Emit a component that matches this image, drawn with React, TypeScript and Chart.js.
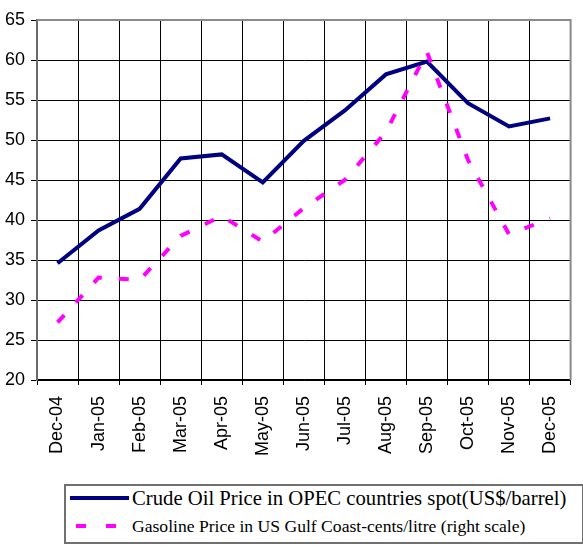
import React, { useEffect, useRef } from "react";
import { Chart, registerables } from "chart.js";

Chart.register(...registerables);

const months = [
  "Dec-04", "Jan-05", "Feb-05", "Mar-05", "Apr-05", "May-05", "Jun-05",
  "Jul-05", "Aug-05", "Sep-05", "Oct-05", "Nov-05", "Dec-05",
];
const crudeOil = [34.6, 38.7, 41.4, 47.7, 48.2, 44.7, 49.9, 53.7, 58.2, 59.8, 54.6, 51.7, 52.7];
const gasoline = [27.2, 32.8, 32.5, 38.0, 40.5, 37.3, 41.5, 45.0, 51.0, 61.0, 47.5, 38.2, 40.2];
const yTicksMin = 20;
const yTicksMax = 65;
const yStep = 5;

const crudeLabel = "Crude Oil Price in OPEC countries spot(US$/barrel)";
const gasLabel = "Gasoline Price in US Gulf Coast-cents/litre (right scale)";

const frameBorder = {
  id: "frameBorder",
  afterDatasetsDraw(chart: any) {
    const { ctx, chartArea } = chart;
    ctx.save();
    ctx.strokeStyle = "#8a8a8a";
    ctx.lineWidth = 2;
    ctx.beginPath();
    ctx.moveTo(chartArea.left, chartArea.top);
    ctx.lineTo(chartArea.right, chartArea.top);
    ctx.lineTo(chartArea.right, chartArea.bottom);
    ctx.stroke();
    ctx.restore();
  },
};

export default function App() {
  const ref = useRef<HTMLCanvasElement>(null);

  useEffect(() => {
    const chart = new Chart(ref.current as HTMLCanvasElement, {
      type: "line",
      data: {
        labels: months,
        datasets: [
          {
            label: gasLabel,
            data: gasoline,
            yAxisID: "y1",
            borderColor: "#ff00ff",
            borderWidth: 4,
            borderDash: [10, 17],
            borderCapStyle: "butt",
            pointRadius: 0,
            tension: 0,
            fill: false,
            order: 0,
          },
          {
            label: crudeLabel,
            data: crudeOil,
            yAxisID: "y",
            borderColor: "#000080",
            borderWidth: 4,
            pointRadius: 0,
            tension: 0,
            fill: false,
            order: 1,
          },
        ],
      },
      options: {
        animation: false,
        responsive: false,
        maintainAspectRatio: false,
        layout: { padding: { top: 20, right: 8, left: 0, bottom: 0 } },
        plugins: { legend: { display: false }, tooltip: { enabled: false } },
        scales: {
          x: {
            offset: true,
            grid: { offset: true, color: "#000", lineWidth: 1, tickLength: 5, drawTicks: true },
            border: { color: "#000", width: 1.5 },
            ticks: {
              minRotation: 90,
              maxRotation: 90,
              padding: 11,
              color: "#000",
              font: { family: "Liberation Sans, Arial", size: 18 },
              autoSkip: false,
            },
            afterFit(scale: any) {
              scale.height = 90;
            },
          },
          y: {
            min: yTicksMin,
            max: yTicksMax,
            grid: { color: "#000", lineWidth: 1, tickLength: 6 },
            border: { color: "#6a6a6a", width: 2 },
            ticks: {
              stepSize: yStep,
              padding: 6,
              color: "#000",
              font: { family: "Liberation Sans, Arial", size: 18 },
            },
            afterFit(scale: any) {
              scale.width = 37;
            },
          },
          y1: {
            display: false,
            min: yTicksMin,
            max: yTicksMax,
          },
        },
      },
      plugins: [frameBorder],
    });
    return () => chart.destroy();
  }, []);

  return (
    <div style={{ position: "fixed", left: 0, top: 0, width: 583, height: 547, background: "#fff", overflow: "hidden" }}>
      <canvas ref={ref} width={583} height={470} style={{ position: "absolute", left: 0, top: 0 }} />
      <div
        style={{
          position: "absolute",
          left: 64,
          top: 484,
          width: 516,
          height: 56,
          border: "2px solid #707070",
          boxSizing: "content-box",
        }}
      />
      <div style={{ position: "absolute", left: 70, top: 496, width: 59, height: 4, background: "#000080" }} />
      <div style={{ position: "absolute", left: 76, top: 524, width: 10, height: 4, background: "#ff00ff" }} />
      <div style={{ position: "absolute", left: 106, top: 524, width: 10, height: 4, background: "#ff00ff" }} />
      <div
        style={{
          position: "absolute",
          left: 132,
          top: 485,
          fontFamily: "Liberation Serif, Times New Roman, serif",
          fontSize: 20.7,
          lineHeight: "26px",
          whiteSpace: "nowrap",
          color: "#000",
        }}
      >
        {crudeLabel}
      </div>
      <div
        style={{
          position: "absolute",
          left: 132,
          top: 515,
          fontFamily: "Liberation Serif, Times New Roman, serif",
          fontSize: 17.6,
          lineHeight: "22px",
          whiteSpace: "nowrap",
          color: "#000",
        }}
      >
        {gasLabel}
      </div>
    </div>
  );
}
